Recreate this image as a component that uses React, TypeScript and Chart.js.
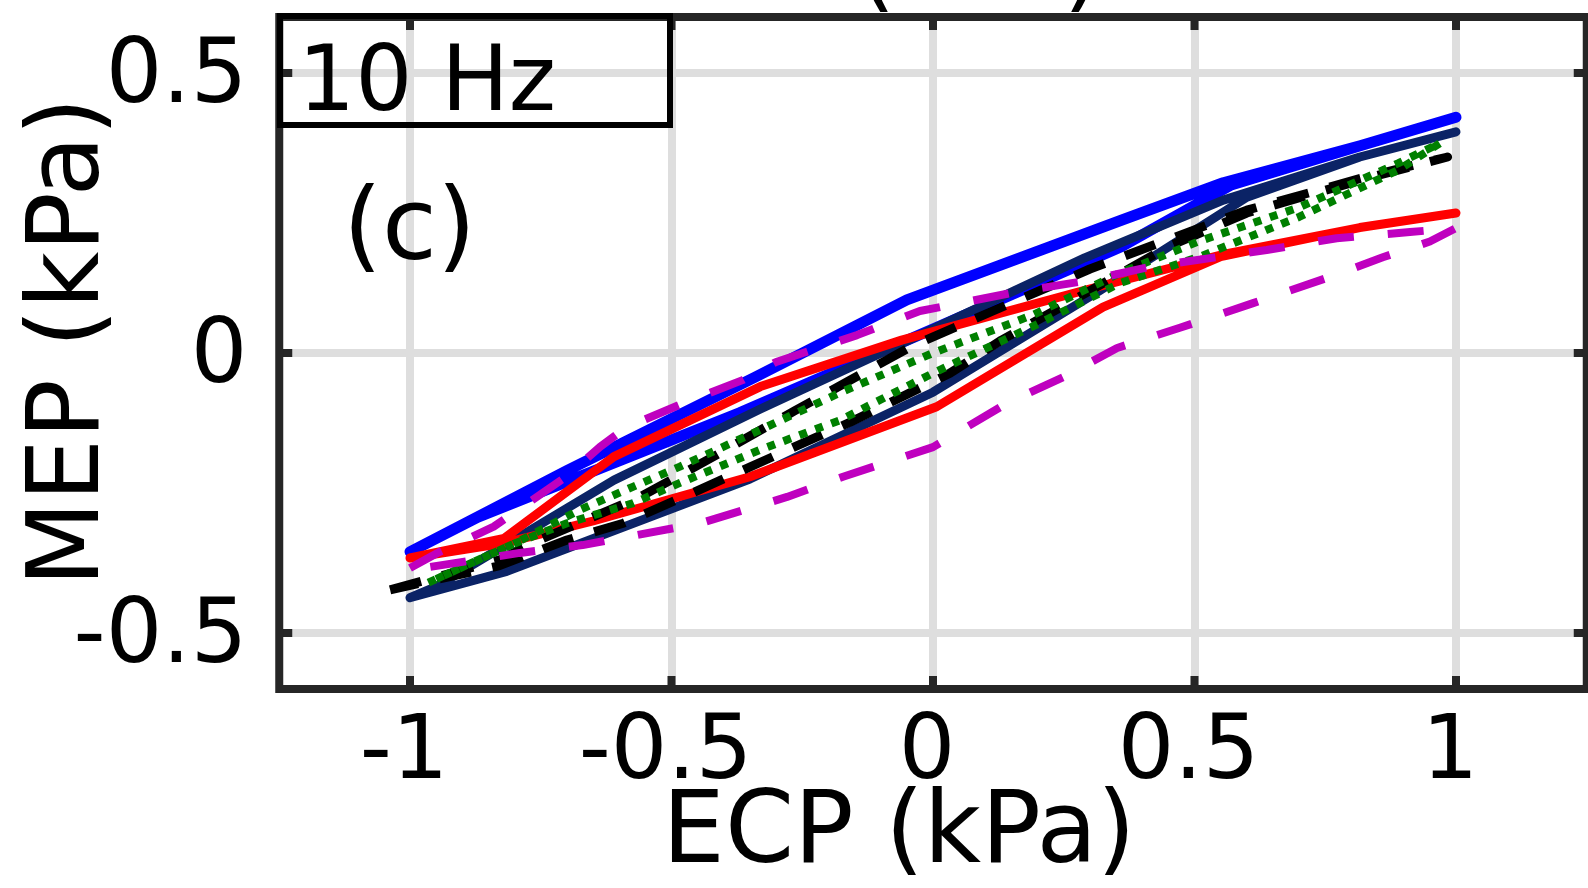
import React, { useEffect, useRef } from "react";
import { Chart, registerables } from "chart.js";

Chart.register(...registerables);

// ---- tick values ----
const xTicks = [-1, -0.5, 0, 0.5, 1];
const yTicks = [-0.5, 0, 0.5];

// ---- series (closed loops: upper branch left->right, then lower branch right->left) ----
const blueX = [-1, -0.7, -0.34, -0.05, 0.36, 0.555, 0.82, 1, 0.82, 0.57, 0.36, 0, -0.37, -0.87, -1];
const blueY = [-0.355, -0.21, -0.043, 0.095, 0.237, 0.304, 0.371, 0.421, 0.371, 0.3, 0.19, 0.043, -0.107, -0.293, -0.355];

const navyX = [-1, -0.95, -0.61, -0.33, 0, 0.29, 0.555, 0.816, 1, 0.816, 0.6, 0.32, 0, -0.35, -0.815, -1];
const navyY = [-0.437, -0.417, -0.227, -0.1, 0.043, 0.17, 0.273, 0.35, 0.395, 0.35, 0.278, 0.112, -0.07, -0.225, -0.39, -0.437];

const redX = [-1, -0.82, -0.61, -0.33, -0.06, 0.29, 0.55, 0.816, 1, 0.816, 0.55, 0.325, 0.007, -0.35, -0.65, -0.822, -1];
const redY = [-0.366, -0.331, -0.185, -0.06, 0.023, 0.112, 0.175, 0.224, 0.25, 0.224, 0.172, 0.082, -0.096, -0.221, -0.3, -0.34, -0.366];

const blackX = [-1.038, -0.83, -0.765, -0.56, -0.41, -0.264, -0.04, 0.3, 0.6, 0.83, 0.984, 0.83, 0.6, 0.45, 0.239, 0.131, 0.0325, -0.048, -0.157, -0.27, -0.363, -0.477, -0.592, -0.7, -0.83, -1.038];
const blackY = [-0.423, -0.37, -0.339, -0.257, -0.18, -0.103, 0.0125, 0.15, 0.255, 0.315, 0.35, 0.312, 0.25, 0.19, 0.079, 0.023, -0.036, -0.073, -0.123, -0.17, -0.209, -0.257, -0.304, -0.334, -0.38, -0.423];

const greenX = [-0.965, -0.8, -0.675, -0.574, -0.484, -0.331, -0.178, 0, 0.191, 0.358, 0.51, 0.7, 0.89, 0.97, 0.89, 0.7, 0.51, 0.358, 0.191, 0, -0.178, -0.331, -0.484, -0.573, -0.7, -0.8, -0.965];
const greenY = [-0.41, -0.34, -0.28, -0.239, -0.203, -0.1375, -0.071, 0, 0.068, 0.143, 0.2, 0.26, 0.339, 0.375, 0.327, 0.243, 0.172, 0.125, 0.0475, -0.036, -0.12, -0.173, -0.232, -0.268, -0.304, -0.34, -0.41];

const magentaX = [-1, -0.943, -0.84, -0.7, -0.637, -0.585, -0.478, -0.363, -0.3, -0.145, -0.025, 0.16, 0.3, 0.415, 0.638, 0.772, 0.912, 1, 0.95, 0.86, 0.753, 0.612, 0.472, 0.352, 0.249, 0.141, 0, -0.172, -0.279, -0.445, -0.566, -0.67, -0.79, -0.975, -1];
const magentaY = [-0.384, -0.355, -0.31, -0.22, -0.168, -0.132, -0.09, -0.048, -0.016, 0.032, 0.075, 0.109, 0.13, 0.154, 0.184, 0.205, 0.216, 0.223, 0.199, 0.171, 0.134, 0.089, 0.045, 0.009, -0.043, -0.09, -0.168, -0.221, -0.257, -0.304, -0.325, -0.343, -0.357, -0.384, -0.384];

const FONT = '"DejaVu Sans", sans-serif';

const pts = (xs: number[], ys: number[]) => xs.map((x, i) => ({ x, y: ys[i] }));

const decorPlugin = {
  id: "decor",
  afterDatasetsDraw(chart: any) {
    const { ctx, chartArea: a, scales } = chart;
    const xs = scales.x;
    const ys = scales.y;
    ctx.save();
    ctx.strokeStyle = "#262626";
    ctx.lineWidth = 8;
    ctx.lineCap = "butt";
    ctx.beginPath();
    for (const v of xTicks) {
      const px = xs.getPixelForValue(v);
      ctx.moveTo(px, a.bottom);
      ctx.lineTo(px, a.bottom - 13);
      ctx.moveTo(px, a.top);
      ctx.lineTo(px, a.top + 13);
    }
    for (const v of yTicks) {
      const py = ys.getPixelForValue(v);
      ctx.moveTo(a.left, py);
      ctx.lineTo(a.left + 13, py);
      ctx.moveTo(a.right, py);
      ctx.lineTo(a.right - 13, py);
    }
    ctx.stroke();
    ctx.lineJoin = "miter";
    ctx.strokeRect(a.left, a.top, a.right - a.left, a.bottom - a.top);
    ctx.restore();
  },
  afterDraw(chart: any) {
    const { ctx } = chart;
    ctx.save();
    ctx.fillStyle = "#000";
    ctx.textAlign = "left";
    ctx.textBaseline = "alphabetic";
    // partial label from panel above (only the parenthesis tails show)
    ctx.font = `96px ${FONT}`;
    ctx.fillText("(kPa)", 858, -1);
    // legend-like box
    ctx.strokeStyle = "#000";
    ctx.lineWidth = 6;
    ctx.strokeRect(280, 16, 390, 109);
    ctx.font = `90px ${FONT}`;
    ctx.fillText("10 Hz", 298, 110);
    // panel tag
    ctx.font = `100px ${FONT}`;
    ctx.fillText("(c)", 343, 259);
    // axis titles
    ctx.font = `99px ${FONT}`;
    ctx.textAlign = "center";
    ctx.fillText("ECP (kPa)", 899, 862);
    ctx.translate(98, 342);
    ctx.rotate(-Math.PI / 2);
    ctx.fillText("MEP (kPa)", 0, 0);
    ctx.restore();
  },
};

export default function App() {
  const canvasRef = useRef<HTMLCanvasElement | null>(null);

  useEffect(() => {
    const canvas = canvasRef.current;
    if (!canvas) return;
    const common = {
      showLine: true,
      pointRadius: 0,
      pointHoverRadius: 0,
      fill: false,
      tension: 0,
      borderJoinStyle: "round" as const,
    };
    const chart = new Chart(canvas, {
      type: "scatter",
      data: {
        datasets: [
          { ...common, label: "magenta", data: pts(magentaX, magentaY), borderColor: "#bf00bf", borderWidth: 8, borderDash: [36, 34], borderCapStyle: "butt", order: 0 },
          { ...common, label: "green", data: pts(greenX, greenY), borderColor: "#008000", borderWidth: 8, borderDash: [8, 9], borderCapStyle: "butt", order: 1 },
          { ...common, label: "black", data: pts(blackX, blackY), borderColor: "#000000", borderWidth: 9, borderDash: [32, 22], borderCapStyle: "butt", order: 2 },
          { ...common, label: "red", data: pts(redX, redY), borderColor: "#ff0000", borderWidth: 9, borderCapStyle: "round", order: 3 },
          { ...common, label: "navy", data: pts(navyX, navyY), borderColor: "#0b2366", borderWidth: 9, borderCapStyle: "round", order: 4 },
          { ...common, label: "blue", data: pts(blueX, blueY), borderColor: "#0000ff", borderWidth: 11, borderCapStyle: "round", order: 5 },
        ] as any,
      },
      options: {
        animation: false,
        responsive: false,
        devicePixelRatio: 1,
        layout: { padding: { top: 17, right: 1.25, left: 0, bottom: 0 } },
        plugins: { legend: { display: false }, tooltip: { enabled: false } },
        events: [],
        scales: {
          x: {
            type: "linear",
            min: -1.25,
            max: 1.25,
            afterBuildTicks: (s: any) => {
              s.ticks = xTicks.map((v) => ({ value: v }));
            },
            afterFit: (s: any) => {
              s.height = 199;
              s.paddingLeft = 0;
              s.paddingRight = 0;
            },
            ticks: {
              font: { family: FONT, size: 89 },
              color: "#000",
              padding: 12,
              labelOffset: -6,
              maxRotation: 0,
              autoSkip: false,
              callback: (v: any) => String(v),
            },
            grid: { color: "#dedede", lineWidth: 8, drawTicks: false },
            border: { display: false },
          },
          y: {
            type: "linear",
            min: -0.6,
            max: 0.6,
            afterBuildTicks: (s: any) => {
              s.ticks = yTicks.map((v) => ({ value: v }));
            },
            afterFit: (s: any) => {
              s.width = 279.25;
              s.paddingTop = 0;
              s.paddingBottom = 0;
            },
            ticks: {
              font: { family: FONT, size: 89 },
              color: "#000",
              padding: 32,
              labelOffset: 6,
              autoSkip: false,
              callback: (v: any) => String(v),
            },
            grid: { color: "#dedede", lineWidth: 8, drawTicks: false },
            border: { display: false },
          },
        },
      } as any,
      plugins: [decorPlugin],
    });
    return () => chart.destroy();
  }, []);

  return (
    <div style={{ position: "fixed", left: 0, top: 0, width: 1588, height: 888, background: "#fff" }}>
      <canvas ref={canvasRef} width={1588} height={888} style={{ display: "block", width: 1588, height: 888 }} />
    </div>
  );
}
